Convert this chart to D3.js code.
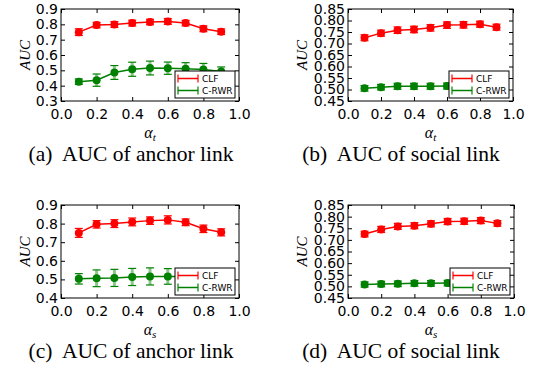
<!DOCTYPE html>
<html>
<head>
<meta charset="utf-8">
<script src="https://cdn.jsdelivr.net/npm/d3@7"></script>
<style>
  body { margin: 0; background: #fff; }
  svg { display: block; }
</style>
</head>
<body>
<div id="chart"></div>
<script>
// x values (alpha) shared by every panel
var alpha = [0.1, 0.2, 0.3, 0.4, 0.5, 0.6, 0.7, 0.8, 0.9];
var xTicks = [0.0, 0.2, 0.4, 0.6, 0.8, 1.0];

// (a) anchor link vs alpha_t
var clfA = [0.749, 0.795, 0.799, 0.808, 0.815, 0.819, 0.808, 0.771, 0.752];
var clfAErr = [0.022, 0.018, 0.019, 0.019, 0.018, 0.019, 0.018, 0.019, 0.018];
var rwrA = [0.426, 0.436, 0.486, 0.507, 0.515, 0.514, 0.510, 0.505, 0.492];
var rwrAErr = [0.018, 0.040, 0.045, 0.046, 0.045, 0.040, 0.040, 0.040, 0.030];

// (b) social link vs alpha_t
var clfB = [0.725, 0.745, 0.758, 0.761, 0.768, 0.780, 0.781, 0.784, 0.771];
var clfBErr = [0.013, 0.013, 0.014, 0.014, 0.014, 0.014, 0.014, 0.013, 0.013];
var rwrB = [0.505, 0.510, 0.514, 0.514, 0.514, 0.515, 0.517, 0.518, 0.518];
var rwrBErr = [0.012, 0.012, 0.013, 0.013, 0.013, 0.013, 0.013, 0.013, 0.013];

// (c) anchor link vs alpha_s
var clfC = [0.750, 0.796, 0.800, 0.809, 0.816, 0.820, 0.807, 0.772, 0.753];
var clfCErr = [0.024, 0.020, 0.021, 0.021, 0.020, 0.022, 0.018, 0.020, 0.019];
var rwrC = [0.503, 0.506, 0.508, 0.513, 0.516, 0.516, 0.515, 0.515, 0.514];
var rwrCErr = [0.028, 0.045, 0.046, 0.046, 0.046, 0.042, 0.040, 0.040, 0.040];

// (d) social link vs alpha_s
var clfD = [0.725, 0.745, 0.758, 0.761, 0.769, 0.779, 0.780, 0.783, 0.771];
var clfDErr = [0.012, 0.013, 0.013, 0.013, 0.013, 0.013, 0.013, 0.013, 0.012];
var rwrD = [0.508, 0.510, 0.511, 0.513, 0.513, 0.514, 0.516, 0.517, 0.517];
var rwrDErr = [0.011, 0.012, 0.012, 0.012, 0.012, 0.012, 0.012, 0.012, 0.012];

var yTicksAnchorT = [0.3, 0.4, 0.5, 0.6, 0.7, 0.8, 0.9];
var yTicksAnchorS = [0.4, 0.5, 0.6, 0.7, 0.8, 0.9];
var yTicksSocial = [0.45, 0.50, 0.55, 0.60, 0.65, 0.70, 0.75, 0.80, 0.85];

var seriesNames = ["CLF", "C-RWR"];
var seriesColors = ["#ff0000", "#008000"];

var panels = [
    { left: 61, top: 9, right: 239, bottom: 101, yTicks: yTicksAnchorT, fmt: ".1f",
      series: [[clfA, clfAErr], [rwrA, rwrAErr]], sub: "t", caption: "(a)  AUC of anchor link", yl: 25, cx: 131 },
    { left: 348, top: 9, right: 513, bottom: 101, yTicks: yTicksSocial, fmt: ".2f",
      series: [[clfB, clfBErr], [rwrB, rwrBErr]], sub: "t", caption: "(b)  AUC of social link", yl: 302, cx: 401 },
    { left: 61, top: 205, right: 239, bottom: 298, yTicks: yTicksAnchorS, fmt: ".1f",
      series: [[clfC, clfCErr], [rwrC, rwrCErr]], sub: "s", caption: "(c)  AUC of anchor link", yl: 25, cx: 131 },
    { left: 348, top: 205, right: 514, bottom: 298, yTicks: yTicksSocial, fmt: ".2f",
      series: [[clfD, clfDErr], [rwrD, rwrDErr]], sub: "s", caption: "(d)  AUC of social link", yl: 302, cx: 401 }
];

var svg = d3.select("#chart").append("svg")
    .attr("width", 541)
    .attr("height", 377);

panels.forEach(drawPanel);

function drawPanel(p) {
    var x = d3.scaleLinear().domain([0, 1]).range([p.left, p.right]);
    var y = d3.scaleLinear()
        .domain(d3.extent(p.yTicks))
        .range([p.bottom, p.top]);
    var g = svg.append("g");

    // axes: ticks pointing inward, labels on bottom and left only
    g.append("g")
        .attr("transform", "translate(0," + p.bottom + ")")
        .call(d3.axisBottom(x).tickValues(xTicks).tickFormat(d3.format(".1f"))
            .tickSizeInner(-4).tickSizeOuter(0).tickPadding(8))
        .call(styleAxis);
    g.append("g")
        .attr("transform", "translate(0," + p.top + ")")
        .call(d3.axisTop(x).tickValues(xTicks).tickFormat("")
            .tickSizeInner(-4).tickSizeOuter(0))
        .call(styleAxis);
    g.append("g")
        .attr("transform", "translate(" + p.left + ",0)")
        .call(d3.axisLeft(y).tickValues(p.yTicks).tickFormat(d3.format(p.fmt))
            .tickSizeInner(-4).tickSizeOuter(0).tickPadding(3))
        .call(styleAxis);
    g.append("g")
        .attr("transform", "translate(" + p.right + ",0)")
        .call(d3.axisRight(y).tickValues(p.yTicks).tickFormat("")
            .tickSizeInner(-4).tickSizeOuter(0))
        .call(styleAxis);

    g.append("rect")
        .attr("x", p.left).attr("y", p.top)
        .attr("width", p.right - p.left).attr("height", p.bottom - p.top)
        .attr("fill", "none").attr("stroke", "#000").attr("stroke-width", 1);

    var line = d3.line()
        .x(function (d) { return x(d.x); })
        .y(function (d) { return y(d.v); });

    p.series.forEach(function (s, i) {
        var color = seriesColors[i];
        var pts = alpha.map(function (a, j) { return { x: a, v: s[0][j], e: s[1][j] }; });
        var sg = g.append("g");

        sg.append("path")
            .attr("d", line(pts))
            .attr("fill", "none")
            .attr("stroke", color)
            .attr("stroke-width", 1.5);

        // error bars
        sg.selectAll(".eb").data(pts).enter().append("line")
            .attr("x1", function (d) { return x(d.x); })
            .attr("x2", function (d) { return x(d.x); })
            .attr("y1", function (d) { return y(d.v - d.e); })
            .attr("y2", function (d) { return y(d.v + d.e); })
            .attr("stroke", color).attr("stroke-width", 3).attr("stroke-opacity", 0.45);
        [-1, 1].forEach(function (sign) {
            sg.selectAll(".cap").data(pts).enter().append("line")
                .attr("x1", function (d) { return x(d.x) - 4; })
                .attr("x2", function (d) { return x(d.x) + 4; })
                .attr("y1", function (d) { return y(d.v + sign * d.e); })
                .attr("y2", function (d) { return y(d.v + sign * d.e); })
                .attr("stroke", color).attr("stroke-width", 1.2);
        });

        sg.selectAll("circle").data(pts).enter().append("circle")
            .attr("cx", function (d) { return x(d.x); })
            .attr("cy", function (d) { return y(d.v); })
            .attr("r", 4)
            .attr("fill", color);
    });

    // legend, lower right, drawn on top of the marks
    var lx = p.right - 64, ly = p.bottom - 30;
    var lg = g.append("g").attr("transform", "translate(" + lx + "," + ly + ")");
    lg.append("rect")
        .attr("width", 60).attr("height", 27)
        .attr("fill", "#fff").attr("stroke", "#000").attr("stroke-width", 1);
    seriesNames.forEach(function (name, i) {
        var ry = 7.5 + i * 12;
        var c = seriesColors[i];
        lg.append("line").attr("x1", 3).attr("x2", 23).attr("y1", ry).attr("y2", ry)
            .attr("stroke", c).attr("stroke-width", 1.5);
        [3, 23].forEach(function (cx) {
            lg.append("line").attr("x1", cx).attr("x2", cx).attr("y1", ry - 4).attr("y2", ry + 4)
                .attr("stroke", c).attr("stroke-width", 1.2);
        });
        lg.append("text")
            .attr("x", 27).attr("y", ry + 3.2)
            .style("font-family", "'DejaVu Sans', sans-serif")
            .style("font-size", "9px")
            .text(name);
    });

    // y label
    var cy = (p.top + p.bottom) / 2;
    g.append("text")
        .attr("transform", "translate(" + p.yl + "," + cy + ") rotate(-90)")
        .attr("text-anchor", "middle")
        .attr("dy", "0.35em")
        .style("font-family", "'Liberation Serif', serif")
        .style("font-style", "italic")
        .style("font-size", "15px")
        .text("AUC");

    // x label alpha_t / alpha_s
    var xl = g.append("text")
        .attr("x", (p.left + p.right) / 2)
        .attr("y", p.bottom + 37)
        .attr("text-anchor", "middle")
        .style("font-family", "'Liberation Serif', serif")
        .style("font-style", "italic")
        .style("font-size", "16px");
    xl.append("tspan").text("\u03b1");
    xl.append("tspan").style("font-size", "11px").attr("dy", 3).text(p.sub);

    // caption
    g.append("text")
        .attr("x", p.cx)
        .attr("y", p.bottom + 60)
        .attr("text-anchor", "middle")
        .style("font-family", "'Liberation Serif', serif")
        .style("font-size", "21.5px")
        .style("white-space", "pre")
        .text(p.caption);
}

function styleAxis(sel) {
    sel.select(".domain").remove();
    sel.selectAll(".tick line").attr("stroke", "#000");
    sel.selectAll(".tick text")
        .style("font-family", "'DejaVu Sans', sans-serif")
        .style("font-size", "14px")
        .attr("fill", "#000");
}
</script>
</body>
</html>
